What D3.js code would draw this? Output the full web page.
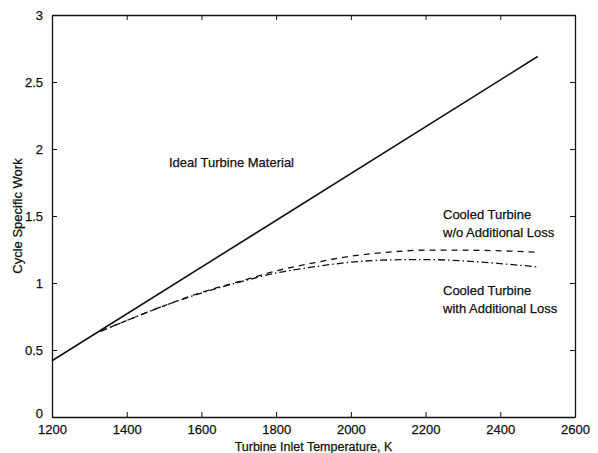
<!DOCTYPE html>
<html>
<head>
<meta charset="utf-8">
<script src="https://cdn.jsdelivr.net/npm/d3@7"></script>
<style>
  html, body { margin: 0; padding: 0; background: #fff; }
  svg { display: block; }
  text { font-family: "Liberation Sans", Arial, Helvetica, sans-serif; fill: #111; stroke: #111; stroke-width: 0.25px; }
</style>
</head>
<body>
<svg id="chart" width="598" height="453"></svg>
<script>
// Turbine inlet temperature (K) and cycle specific work
const idealTemp = [1200, 2500];
const idealWork = [0.42, 2.69];

const cooledTemp = [1330, 1400, 1500, 1600, 1700, 1800, 1900, 2000, 2100, 2200, 2300, 2400, 2500];
const cooledNoLoss = [0.64, 0.72, 0.83, 0.93, 1.01, 1.09, 1.15, 1.20, 1.23, 1.245, 1.245, 1.24, 1.23];
const cooledWithLoss = [0.64, 0.72, 0.83, 0.925, 1.005, 1.075, 1.12, 1.155, 1.172, 1.175, 1.165, 1.145, 1.12];

const xTicks = [1200, 1400, 1600, 1800, 2000, 2200, 2400, 2600];
const yTicks = [0, 0.5, 1, 1.5, 2, 2.5, 3];

const svg = d3.select("#chart");
const margin = { left: 52, right: 23, top: 15, bottom: 36 };
const W = 598, H = 453;
const x = d3.scaleLinear().domain([1200, 2600]).range([margin.left, W - margin.right]);
const y = d3.scaleLinear().domain([0, 3]).range([H - margin.bottom, margin.top]);

const ink = "#111";
const tickLen = 5;
const fontSize = 13;

// Axes with inward ticks on all four sides
const fmtY = d => d === 0 ? "0" : d3.format("~g")(d);
const axisB = svg.append("g").attr("transform", `translate(0,${y(0)})`)
  .call(d3.axisBottom(x).tickValues(xTicks).tickSizeInner(-tickLen).tickSizeOuter(0).tickPadding(8).tickFormat(d3.format("d")));
const axisL = svg.append("g").attr("transform", `translate(${x(1200)},0)`)
  .call(d3.axisLeft(y).tickValues(yTicks).tickSizeInner(-tickLen).tickSizeOuter(0).tickPadding(9).tickFormat(fmtY));
const axisT = svg.append("g").attr("transform", `translate(0,${y(3)})`)
  .call(d3.axisTop(x).tickValues(xTicks).tickSizeInner(-tickLen).tickSizeOuter(0).tickFormat(""));
const axisR = svg.append("g").attr("transform", `translate(${x(2600)},0)`)
  .call(d3.axisRight(y).tickValues(yTicks).tickSizeInner(-tickLen).tickSizeOuter(0).tickFormat(""));

[axisB, axisL, axisT, axisR].forEach(g => {
  g.select(".domain").attr("stroke", ink).attr("stroke-width", 1.3);
  g.selectAll(".tick line").attr("stroke", ink).attr("stroke-width", 1);
  g.selectAll(".tick text").attr("font-size", fontSize).attr("fill", ink)
    .attr("font-family", "Liberation Sans, Arial, sans-serif");
});
axisB.selectAll(".tick text").attr("dy", "0.71em");
// the zero label sits a little higher so it clears the 1200 label below it
axisL.selectAll(".tick text").filter(d => d === 0).attr("dy", "0.05em");

// Series lines
const line = d3.line().x(d => x(d[0])).y(d => y(d[1])).curve(d3.curveMonotoneX);

svg.append("path")
  .datum(idealTemp.map((t, i) => [t, idealWork[i]]))
  .attr("d", line).attr("fill", "none").attr("stroke", ink).attr("stroke-width", 1.6);

svg.append("path")
  .datum(cooledTemp.map((t, i) => [t, cooledNoLoss[i]]))
  .attr("d", line).attr("fill", "none").attr("stroke", ink).attr("stroke-width", 1.3)
  .attr("stroke-dasharray", "6,5");

svg.append("path")
  .datum(cooledTemp.map((t, i) => [t, cooledWithLoss[i]]))
  .attr("d", line).attr("fill", "none").attr("stroke", ink).attr("stroke-width", 1.3)
  .attr("stroke-dasharray", "7,3,1.5,3");

// Annotations
const note = (tx, ty, s) => svg.append("text").attr("x", tx).attr("y", ty)
  .attr("font-size", fontSize).text(s);
note(169, 167, "Ideal Turbine Material");
note(443, 219, "Cooled Turbine");
note(443, 237, "w/o Additional Loss");
note(443, 295, "Cooled Turbine");
note(443, 313, "with Additional Loss");

// Axis titles
svg.append("text")
  .attr("x", (x(1200) + x(2600)) / 2).attr("y", 451)
  .attr("text-anchor", "middle").attr("font-size", 12.5)
  .text("Turbine Inlet Temperature, K");

svg.append("text")
  .attr("transform", `translate(22,${(y(0) + y(3)) / 2}) rotate(-90)`)
  .attr("text-anchor", "middle").attr("font-size", fontSize)
  .text("Cycle Specific Work");
</script>
</body>
</html>
